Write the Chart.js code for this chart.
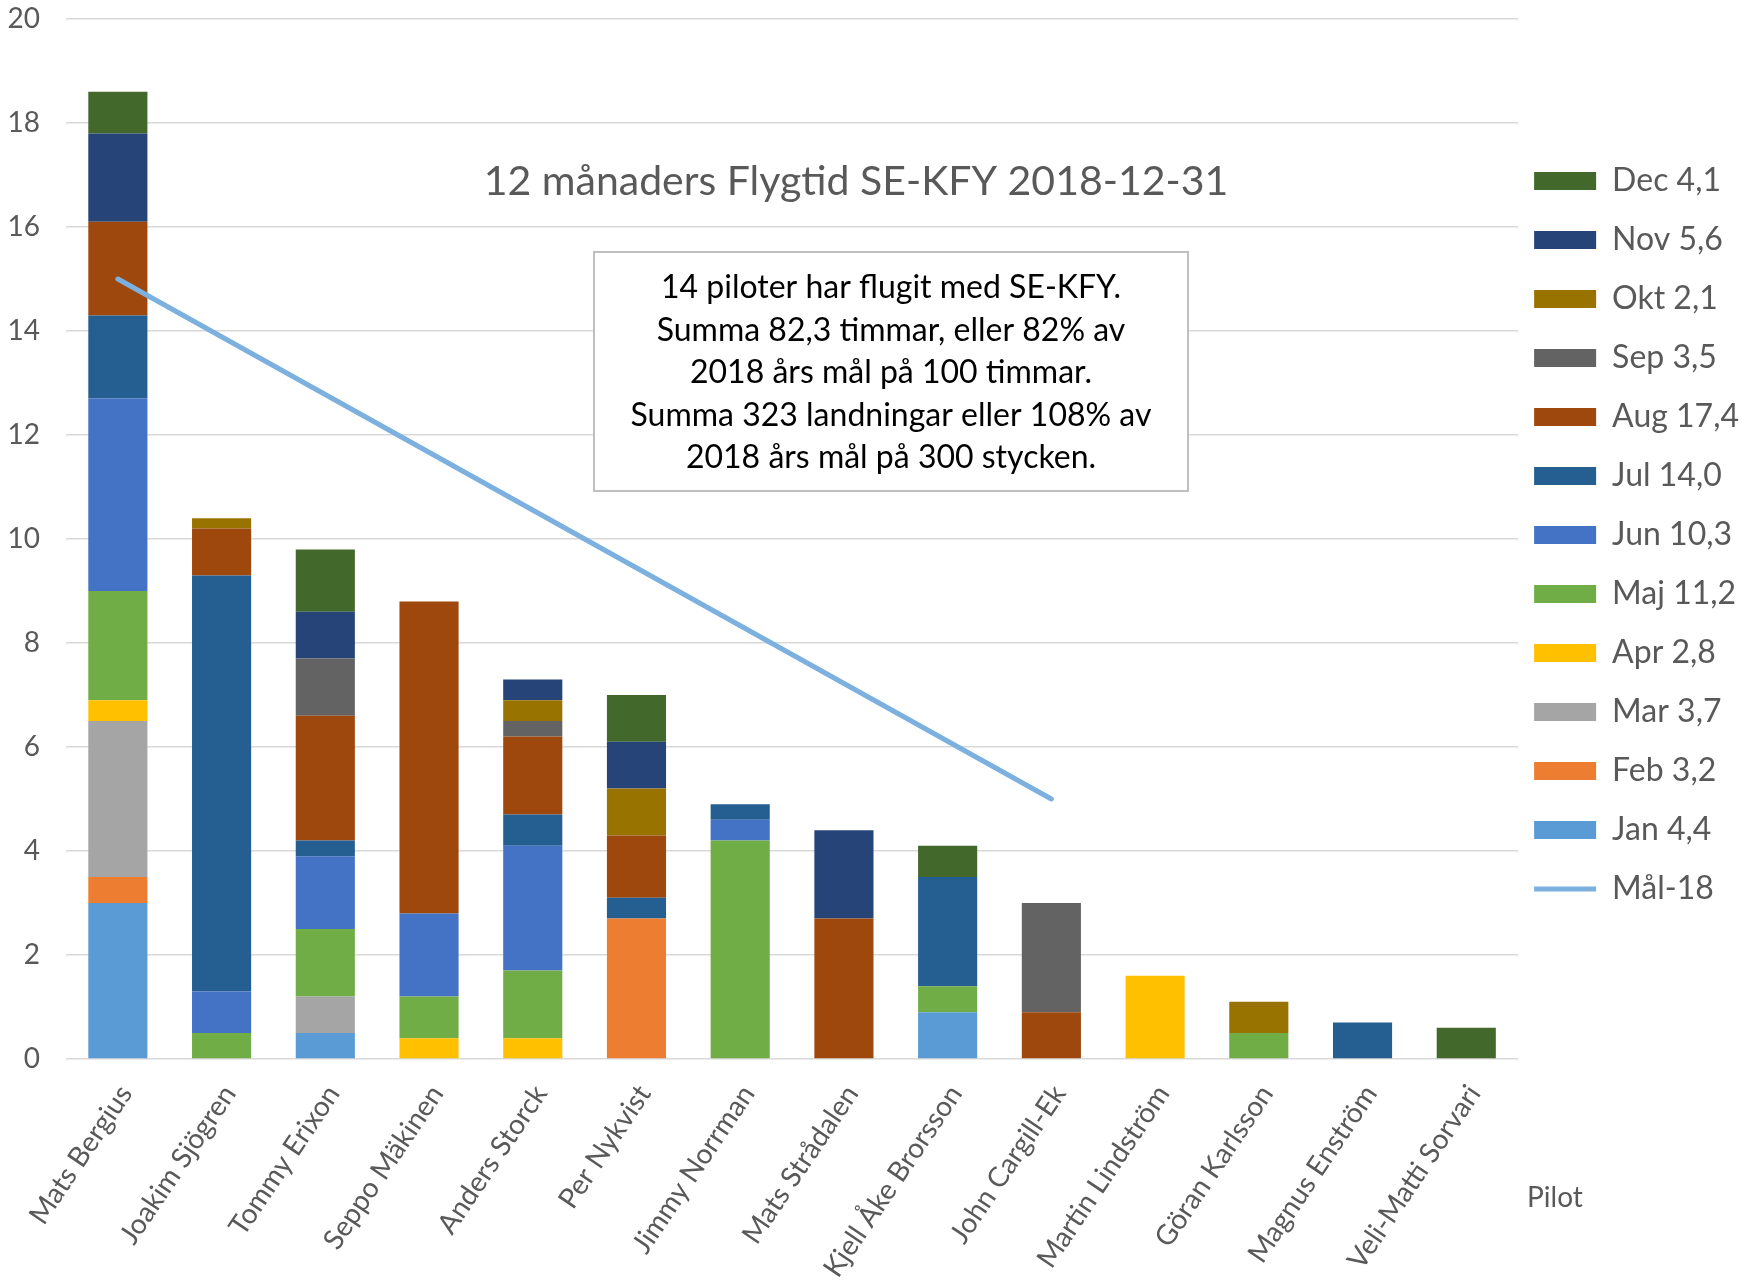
<!DOCTYPE html>
<html lang="sv">
<head>
  <meta charset="UTF-8">
  <title>12 månaders Flygtid SE-KFY 2018-12-31</title>
  <style>
    body { margin: 0; background: #fff; }
    .wrap { width: 1749px; height: 1283px; }
  </style>
</head>
<body>
  <div class="wrap"><canvas id="chart"></canvas></div>

  <script src="https://cdn.jsdelivr.net/npm/chart.js"></script>
  <script>
    const pilots = ["Mats Bergius", "Joakim Sjögren", "Tommy Erixon", "Seppo Mäkinen", "Anders Storck",
      "Per Nykvist", "Jimmy Norrman", "Mats Strådalen", "Kjell Åke Brorsson", "John Cargill-Ek",
      "Martin Lindström", "Göran Karlsson", "Magnus Enström", "Veli-Matti Sorvari"];

    // flygtid per månad och pilot (timmar)
    const jan = [3.0, 0, 0.5, 0, 0, 0, 0, 0, 0.9, 0, 0, 0, 0, 0];
    const feb = [0.5, 0, 0, 0, 0, 2.7, 0, 0, 0, 0, 0, 0, 0, 0];
    const mar = [3.0, 0, 0.7, 0, 0, 0, 0, 0, 0, 0, 0, 0, 0, 0];
    const apr = [0.4, 0, 0, 0.4, 0.4, 0, 0, 0, 0, 0, 1.6, 0, 0, 0];
    const maj = [2.1, 0.5, 1.3, 0.8, 1.3, 0, 4.2, 0, 0.5, 0, 0, 0.5, 0, 0];
    const jun = [3.7, 0.8, 1.4, 1.6, 2.4, 0, 0.4, 0, 0, 0, 0, 0, 0, 0];
    const jul = [1.6, 8.0, 0.3, 0, 0.6, 0.4, 0.3, 0, 2.1, 0, 0, 0, 0.7, 0];
    const aug = [1.8, 0.9, 2.4, 6.0, 1.5, 1.2, 0, 2.7, 0, 0.9, 0, 0, 0, 0];
    const sep = [0, 0, 1.1, 0, 0.3, 0, 0, 0, 0, 2.1, 0, 0, 0, 0];
    const okt = [0, 0.2, 0, 0, 0.4, 0.9, 0, 0, 0, 0, 0, 0.6, 0, 0];
    const nov = [1.7, 0, 0.9, 0, 0.4, 0.9, 0, 1.7, 0, 0, 0, 0, 0, 0];
    const dec = [0.8, 0, 1.2, 0, 0, 0.9, 0, 0, 0.6, 0, 0, 0, 0, 0.6];
    const mal18 = [15, null, null, null, null, null, null, null, null, 5, null, null, null, null];

    const monthNames = ["Jan 4,4", "Feb 3,2", "Mar 3,7", "Apr 2,8", "Maj 11,2", "Jun 10,3",
      "Jul 14,0", "Aug 17,4", "Sep 3,5", "Okt 2,1", "Nov 5,6", "Dec 4,1"];
    const monthData = [jan, feb, mar, apr, maj, jun, jul, aug, sep, okt, nov, dec];
    const monthColors = ["#5b9bd5", "#ed7d31", "#a5a5a5", "#ffc000", "#70ad47", "#4472c4",
      "#255e91", "#9e480e", "#636363", "#997300", "#264478", "#43682b"];

    const yTicks = [0, 2, 4, 6, 8, 10, 12, 14, 16, 18, 20];

    const infoLines = ["14 piloter har flugit med SE-KFY.", "Summa 82,3 timmar, eller 82% av",
      "2018 års mål på 100 timmar.", "Summa 323 landningar eller 108% av", "2018 års mål på 300 stycken."];
    const chartTitle = "12 månaders Flygtid SE-KFY 2018-12-31";

    Chart.defaults.font.family = "Lato, 'Noto Sans', sans-serif";
    Chart.defaults.color = "#595959";

    const datasets = [{
      type: "line",
      label: "Mål-18",
      data: mal18,
      stack: "mal",
      borderColor: "#7cb0df",
      backgroundColor: "#7cb0df",
      borderWidth: 5,
      borderCapStyle: "round",
      pointRadius: 0,
      pointStyle: "line",
      spanGaps: true
    }];
    monthData.forEach((d, i) => {
      datasets.push({
        type: "bar",
        label: monthNames[i],
        data: d,
        stack: "tid",
        backgroundColor: monthColors[i],
        borderWidth: 0,
        pointStyle: "rect",
        barPercentage: 0.57,
        categoryPercentage: 1
      });
    });

    const overlay = {
      id: "overlay",
      afterDraw(chart) {
        const { ctx, chartArea: a } = chart;
        ctx.save();
        // rubrik
        ctx.fillStyle = "#595959";
        ctx.font = "41px Lato";
        ctx.textAlign = "center";
        ctx.textBaseline = "middle";
        ctx.fillText(chartTitle, a.left + 790, a.top + 163);

        // textruta
        const bx = a.left + 528, by = a.top + 233, bw = 594, bh = 239;
        ctx.fillStyle = "#fff";
        ctx.fillRect(bx, by, bw, bh);
        ctx.strokeStyle = "#bfbfbf";
        ctx.lineWidth = 2;
        ctx.strokeRect(bx, by, bw, bh);
        ctx.fillStyle = "#000";
        ctx.font = "32px Lato";
        infoLines.forEach((t, i) => ctx.fillText(t, bx + bw / 2, by + 36 + i * 42.5));

        // axeltitel
        ctx.fillStyle = "#595959";
        ctx.font = "28px Lato";
        ctx.textAlign = "left";
        ctx.fillText("Pilot", a.right + 9, a.bottom + 139);
        ctx.restore();
      }
    };

    new Chart(document.getElementById("chart"), {
      data: { labels: pilots, datasets: datasets },
      plugins: [overlay],
      options: {
        responsive: true,
        maintainAspectRatio: false,
        animation: false,
        layout: { padding: { top: 19, right: 0, bottom: 0, left: 0 } },
        plugins: {
          tooltip: { enabled: false },
          legend: {
            position: "right",
            align: "start",
            title: { display: true, text: " ", font: { size: 10, lineHeight: 1 }, padding: { top: 120, bottom: 0 } },
            labels: {
              usePointStyle: true,
              pointStyleWidth: 62,
              boxWidth: 62,
              boxHeight: 18,
              padding: 16,
              color: "#595959",
              font: { size: 32, lineHeight: "43px" },
              generateLabels(chart) {
                const items = Chart.defaults.plugins.legend.labels.generateLabels(chart);
                items.forEach(it => { it.text = [it.text]; });
                return items;
              },
              sort: (a, b) => {
                const k = it => it.datasetIndex === 0 ? 100 : -it.datasetIndex;
                return k(a) - k(b);
              }
            }
          }
        },
        scales: {
          x: {
            stacked: true,
            grid: { display: false },
            border: { display: false },
            ticks: { color: "#595959", font: { size: 28 }, minRotation: 56, maxRotation: 56, padding: 12, labelOffset: 8, autoSkip: false },
            afterFit(s) { s.height = 224; s.paddingLeft = 0; s.paddingRight = 0; }
          },
          y: {
            stacked: true,
            min: 0,
            max: 20,
            afterBuildTicks(s) { s.ticks = yTicks.map(v => ({ value: v })); },
            grid: { color: "#d9d9d9", lineWidth: 1.5, drawTicks: false },
            border: { display: false },
            ticks: { color: "#595959", font: { size: 28 }, padding: 26 },
            afterFit(s) { s.width = 66; s.paddingTop = 0; s.paddingBottom = 0; }
          }
        }
      }
    });
  </script>
</body>
</html>
